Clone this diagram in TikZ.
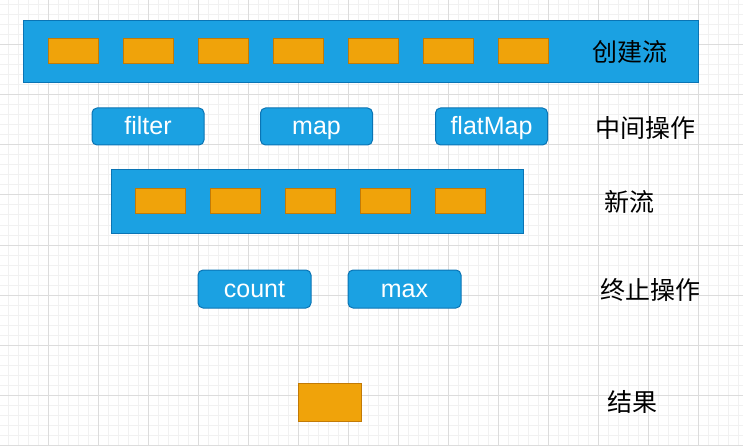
\documentclass[tikz,border=0pt]{standalone}
\usepackage{fontspec}
\setmainfont{Liberation Sans}
\newfontfamily\cjk{Noto Sans CJK SC}
\definecolor{streamblue}{HTML}{1BA1E2}
\definecolor{streamedge}{HTML}{0A74B4}
\definecolor{elemfill}{HTML}{F0A30A}
\definecolor{elemedge}{HTML}{C27A06}
\definecolor{gridmajor}{HTML}{DCDCDC}
\definecolor{gridminor}{HTML}{F1F1F1}

\begin{document}
\begin{tikzpicture}[x=1pt,y=-1pt,
    stream/.style={fill=streamblue,draw=streamedge,line width=1pt,inner sep=0pt},
    elem/.style={fill=elemfill,draw=elemedge,line width=1pt,inner sep=0pt,minimum width=50pt,minimum height=25pt},
    opbox/.style={fill=streamblue,draw=streamedge,line width=1pt,rounded corners=5pt,minimum width=112pt,minimum height=37pt,text height=19pt,text depth=2pt,inner ysep=0pt,text=white,font=\fontsize{25}{28}\selectfont},
    stagetext/.style={font=\cjk\fontsize{25}{28}\selectfont,text=black}]
    \useasboundingbox (0,0) rectangle (743,446);

    % background grid
    \foreach \gx in {8,18,...,738} \draw[gridminor,line width=1pt] (\gx,0) -- (\gx,446);
    \foreach \gy in {5,15,...,445} \draw[gridminor,line width=1pt] (0,\gy) -- (743,\gy);
    \foreach \gx in {48,98,...,698} \draw[gridmajor,line width=1pt] (\gx,0) -- (\gx,446);
    \foreach \gy in {45,95,...,445} \draw[gridmajor,line width=1pt] (0,\gy) -- (743,\gy);

    % source stream
    \node[stream,minimum width=675pt,minimum height=62pt] (source) at (360.5,51.5) {};
    \node[elem] (src1) at (73,51.5) {};
    \node[elem] (src2) at (148,51.5) {};
    \node[elem] (src3) at (223,51.5) {};
    \node[elem] (src4) at (298,51.5) {};
    \node[elem] (src5) at (373,51.5) {};
    \node[elem] (src6) at (448,51.5) {};
    \node[elem] (src7) at (523,51.5) {};
    \node[stagetext] (create) at (630,52) {创建流};

    % intermediate operations
    \node[opbox] (filter) at (148,126.5) {filter};
    \node[opbox] (map) at (316.5,126.5) {map};
    \node[opbox] (flatmap) at (491.5,126.5) {flatMap};
    \node[stagetext] (middle) at (645,128) {中间操作};

    % new stream
    \node[stream,minimum width=412pt,minimum height=63pt] (newstream) at (317,201.5) {};
    \node[elem] (new1) at (160,201.5) {};
    \node[elem] (new2) at (235,201.5) {};
    \node[elem] (new3) at (310,201.5) {};
    \node[elem] (new4) at (385,201.5) {};
    \node[elem] (new5) at (460,201.5) {};
    \node[stagetext] (newlabel) at (629,202) {新流};

    % terminal operations
    \node[opbox,minimum width=113pt,minimum height=38pt] (count) at (254.5,289) {count};
    \node[opbox,minimum width=113pt,minimum height=38pt] (max) at (404.5,289) {max};
    \node[stagetext] (terminal) at (650,290) {终止操作};

    % result
    \node[elem,minimum width=63pt,minimum height=38pt] (result) at (329.5,402) {};
    \node[stagetext] (resultlabel) at (632,402) {结果};

\end{tikzpicture}
\end{document}
